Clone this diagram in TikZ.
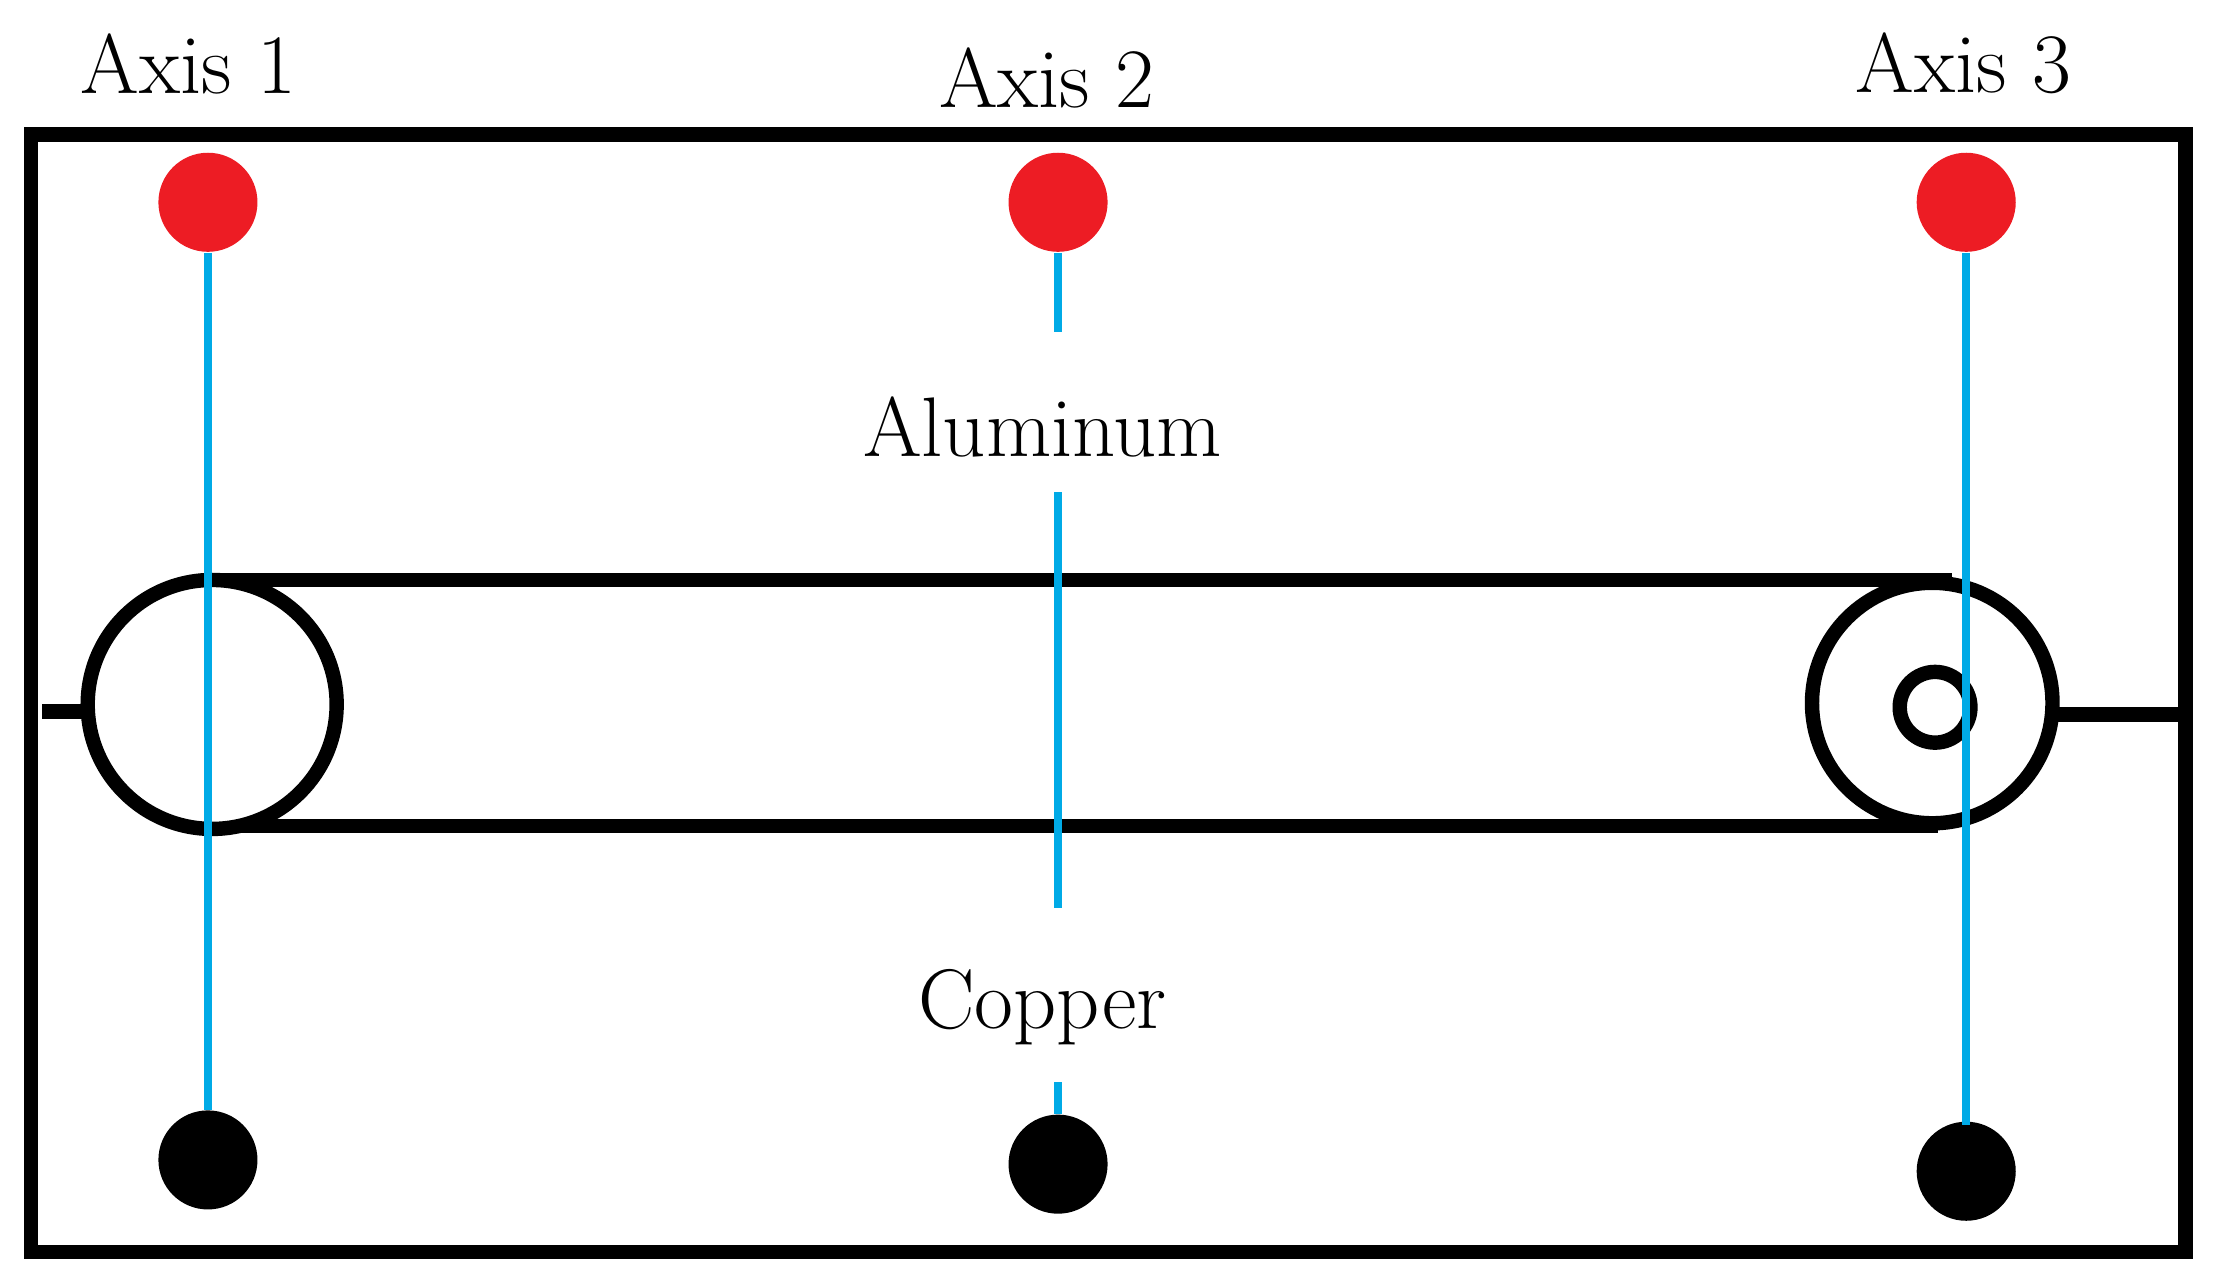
\documentclass[tikz,border=0pt]{standalone}
\begin{document}
\begin{tikzpicture}[x=0.01cm,y=-0.01cm,
  blk/.style={line width=2.9pt},
  ax/.style={line width=1.5pt,draw={rgb,255:red,0;green,170;blue,230}},
  rdot/.style={circle,fill={rgb,255:red,237;green,28;blue,36},minimum size=0.7cm,inner sep=0},
  kdot/.style={circle,fill=black,minimum size=0.7cm,inner sep=0},
  lbl/.style={font=\fontsize{17}{20}\selectfont,inner sep=0pt}]
\useasboundingbox (0,0) rectangle (1568,909);
\draw[blk] (22,95) rectangle (1545,885);
\node[rdot] (r1) at (147,143) {};
\node[rdot] (r2) at (748,143) {};
\node[rdot] (r3) at (1390,143) {};
\node[kdot] (b1) at (147,820) {};
\node[kdot] (b2) at (748,823) {};
\node[kdot] (b3) at (1390,828) {};
\node[lbl] (t1) at (133,45) {Axis 1};
\node[lbl] (t2) at (740,55) {Axis 2};
\node[lbl] (t3) at (1388,45) {Axis 3};
\node[lbl] (al) at (737,302) {Aluminum};
\node[lbl] (cu) at (737,712) {Copper};
\draw[blk] (147,410) -- (1380,410);
\draw[blk] (150,584) -- (1370,584);
\draw[blk,fill=white] (150,498) circle[radius=88];
\draw[blk,fill=white] (1366,497) circle[radius=85];
\draw[blk] (1368,500) circle[radius=25];
\draw[blk] (30,503) -- (62,503);
\draw[blk] (1453,505) -- (1540,505);
\draw[ax] (r1) -- (147,785);
\draw[ax] (r2) -- (748,235);
\draw[ax] (748,348) -- (748,642);
\draw[ax] (748,765) -- (b2);
\draw[ax] (r3) -- (1390,795);
\end{tikzpicture}
\end{document}
